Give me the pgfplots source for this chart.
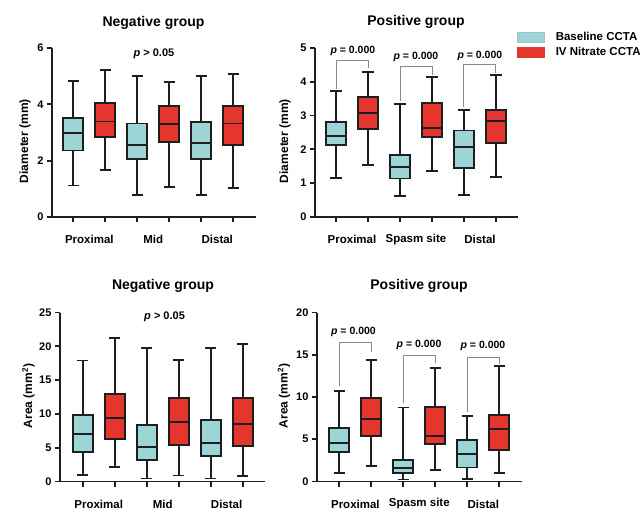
\documentclass[border=0pt]{standalone}
\usepackage{pgfplots}
\pgfplotsset{compat=1.18}
\usepgfplotslibrary{statistics}
\usepackage{fontspec}
\setmainfont{Liberation Sans}
\definecolor{cbase}{HTML}{9DD4D6}
\definecolor{cnit}{HTML}{E5362D}
\definecolor{edge}{HTML}{1E1E1E}
\definecolor{brk}{HTML}{8A8A8A}

\pgfplotsset{
  panel/.style={scale only axis, height=169pt,
    axis x line=bottom, axis y line=left,
    axis line style={-, line width=1.8pt, draw=edge},
    every tick/.style={line width=1.8pt, draw=edge},
    major tick length=5pt, tick align=outside,
    xtick={0,...,5}, xticklabels={},
    tick label style={font=\bfseries\fontsize{11}{11}\selectfont},
    /pgf/number format/assume math mode=true,
    clip=false,
    boxplot/draw direction=y,
    boxplot/box extend=0.625, boxplot/whisker extend=0.36},
  bb/.style={boxplot prepared={#1}, fill=cbase, draw=edge, line width=1.9pt, solid},
  rb/.style={boxplot prepared={#1}, fill=cnit, draw=edge, line width=1.9pt, solid},
  swatch/.style={legend image code/.code={\draw[##1] (0pt,-5pt) rectangle (27pt,5pt);}},
}
\tikzset{
  cat/.style={font=\bfseries\fontsize{11.5}{12}\selectfont, yshift=-22.5pt},
  pv/.style={font=\bfseries\fontsize{10.5}{11}\selectfont},
  bracket/.style={draw=brk, line width=0.9pt},
}

\begin{document}
\begin{tikzpicture}
\path[use as bounding box] (0pt,0pt) rectangle (642pt,509pt);

% ---------- Panel 1: Diameter, negative group ----------
\begin{axis}[panel, at={(52pt,292pt)}, anchor=south west, width=204pt,
  xmin=-0.666, xmax=5.71, ymin=0, ymax=6, ytick={0,2,4,6}]
\addplot[bb={draw position=0, lower whisker=1.12, lower quartile=2.36, median=2.99, upper quartile=3.53, upper whisker=4.82}] coordinates {};
\addplot[rb={draw position=1, lower whisker=1.68, lower quartile=2.83, median=3.39, upper quartile=4.06, upper whisker=5.21}] coordinates {};
\addplot[bb={draw position=2, lower whisker=0.78, lower quartile=2.05, median=2.56, upper quartile=3.32, upper whisker=5.02}] coordinates {};
\addplot[rb={draw position=3, lower whisker=1.08, lower quartile=2.65, median=3.30, upper quartile=3.95, upper whisker=4.80}] coordinates {};
\addplot[bb={draw position=4, lower whisker=0.78, lower quartile=2.06, median=2.62, upper quartile=3.38, upper whisker=5.02}] coordinates {};
\addplot[rb={draw position=5, lower whisker=1.04, lower quartile=2.55, median=3.32, upper quartile=3.95, upper whisker=5.07}] coordinates {};
\node[cat] at (axis cs:0.5,0) {Proximal};
\node[cat] at (axis cs:2.5,0) {Mid};
\node[cat] at (axis cs:4.5,0) {Distal};
\node[font=\bfseries\fontsize{11}{11}\selectfont] at (axis cs:2.52,5.81) {\textit{p} > 0.05};
\end{axis}

% ---------- Panel 2: Diameter, positive group ----------
\begin{axis}[panel, at={(315pt,292pt)}, anchor=south west, width=203pt,
  xmin=-0.656, xmax=5.69, ymin=0, ymax=5, ytick={0,1,2,3,4,5},
  legend style={at={(axis description cs:0.995,1.105)}, anchor=north west, draw=none, fill=none,
    inner sep=0pt, font=\bfseries\fontsize{11.5}{12}\selectfont, row sep=1pt,
    /tikz/every odd column/.style={column sep=9pt}},
  legend cell align=left]
\addlegendimage{swatch, fill=cbase, draw=cbase!85!gray, line width=0.6pt}
\addlegendentry{Baseline CCTA}
\addlegendimage{swatch, fill=cnit, draw=cnit, line width=0.6pt}
\addlegendentry{IV Nitrate CCTA}
\addplot[bb={draw position=0, lower whisker=1.16, lower quartile=2.13, median=2.40, upper quartile=2.80, upper whisker=3.72}] coordinates {};
\addplot[rb={draw position=1, lower whisker=1.55, lower quartile=2.60, median=3.07, upper quartile=3.55, upper whisker=4.30}] coordinates {};
\addplot[bb={draw position=2, lower whisker=0.63, lower quartile=1.14, median=1.48, upper quartile=1.84, upper whisker=3.35}] coordinates {};
\addplot[rb={draw position=3, lower whisker=1.35, lower quartile=2.38, median=2.63, upper quartile=3.37, upper whisker=4.13}] coordinates {};
\addplot[bb={draw position=4, lower whisker=0.66, lower quartile=1.45, median=2.06, upper quartile=2.56, upper whisker=3.16}] coordinates {};
\addplot[rb={draw position=5, lower whisker=1.18, lower quartile=2.18, median=2.83, upper quartile=3.16, upper whisker=4.19}] coordinates {};
\draw[bracket] (axis cs:0,3.80) -- (axis cs:0,4.62) -- (axis cs:1,4.62) -- (axis cs:1,4.40);
\draw[bracket] (axis cs:2,3.42) -- (axis cs:2,4.46) -- (axis cs:3,4.46) -- (axis cs:3,4.21);
\draw[bracket] (axis cs:4,3.25) -- (axis cs:4,4.50) -- (axis cs:5,4.50) -- (axis cs:5,4.26);
\node[pv] at (axis cs:0.53,4.90) {\textit{p} = 0.000};
\node[pv] at (axis cs:2.50,4.75) {\textit{p} = 0.000};
\node[pv] at (axis cs:4.50,4.78) {\textit{p} = 0.000};
\node[cat] at (axis cs:0.5,0) {Proximal};
\node[cat] at (axis cs:2.5,0) {Spasm site};
\node[cat] at (axis cs:4.5,0) {Distal};
\end{axis}

% ---------- Panel 3: Area, negative group ----------
\begin{axis}[panel, at={(60pt,27.5pt)}, anchor=south west, width=205pt,
  xmin=-0.71, xmax=5.70, ymin=0, ymax=25, ytick={0,5,10,15,20,25}]
\addplot[bb={draw position=0, lower whisker=0.94, lower quartile=4.38, median=6.98, upper quartile=9.80, upper whisker=17.9}] coordinates {};
\addplot[rb={draw position=1, lower whisker=2.18, lower quartile=6.25, median=9.35, upper quartile=13.0, upper whisker=21.2}] coordinates {};
\addplot[bb={draw position=2, lower whisker=0.45, lower quartile=3.17, median=5.15, upper quartile=8.32, upper whisker=19.8}] coordinates {};
\addplot[rb={draw position=3, lower whisker=0.89, lower quartile=5.42, median=8.78, upper quartile=12.33, upper whisker=18.0}] coordinates {};
\addplot[bb={draw position=4, lower whisker=0.45, lower quartile=3.78, median=5.72, upper quartile=9.11, upper whisker=19.7}] coordinates {};
\addplot[rb={draw position=5, lower whisker=0.86, lower quartile=5.30, median=8.55, upper quartile=12.3, upper whisker=20.35}] coordinates {};
\node[cat] at (axis cs:0.5,0) {Proximal};
\node[cat] at (axis cs:2.5,0) {Mid};
\node[cat] at (axis cs:4.5,0) {Distal};
\node[font=\bfseries\fontsize{11}{11}\selectfont] at (axis cs:2.56,24.4) {\textit{p} > 0.05};
\end{axis}

% ---------- Panel 4: Area, positive group ----------
\begin{axis}[panel, at={(317pt,27.5pt)}, anchor=south west, width=205pt,
  xmin=-0.70, xmax=5.71, ymin=0, ymax=20, ytick={0,5,10,15,20}]
\addplot[bb={draw position=0, lower whisker=1.03, lower quartile=3.49, median=4.60, upper quartile=6.35, upper whisker=10.7}] coordinates {};
\addplot[rb={draw position=1, lower whisker=1.85, lower quartile=5.39, median=7.42, upper quartile=9.90, upper whisker=14.42}] coordinates {};
\addplot[bb={draw position=2, lower whisker=0.24, lower quartile=0.99, median=1.64, upper quartile=2.55, upper whisker=8.76}] coordinates {};
\addplot[rb={draw position=3, lower whisker=1.39, lower quartile=4.42, median=5.38, upper quartile=8.84, upper whisker=13.45}] coordinates {};
\addplot[bb={draw position=4, lower whisker=0.26, lower quartile=1.66, median=3.27, upper quartile=4.87, upper whisker=7.76}] coordinates {};
\addplot[rb={draw position=5, lower whisker=1.03, lower quartile=3.68, median=6.23, upper quartile=7.84, upper whisker=13.70}] coordinates {};
\draw[bracket] (axis cs:0,11.25) -- (axis cs:0,16.44) -- (axis cs:1,16.44) -- (axis cs:1,15.37);
\draw[bracket] (axis cs:2,9.30) -- (axis cs:2,14.89) -- (axis cs:3,14.89) -- (axis cs:3,13.98);
\draw[bracket] (axis cs:4,8.25) -- (axis cs:4,14.69) -- (axis cs:5,14.69) -- (axis cs:5,13.86);
\node[pv] at (axis cs:0.44,17.66) {\textit{p} = 0.000};
\node[pv] at (axis cs:2.49,16.12) {\textit{p} = 0.000};
\node[pv] at (axis cs:4.49,16.08) {\textit{p} = 0.000};
\node[cat] at (axis cs:0.5,0) {Proximal};
\node[cat] at (axis cs:2.5,0) {Spasm site};
\node[cat] at (axis cs:4.5,0) {Distal};
\end{axis}

% ---------- Titles and axis labels ----------
\node[font=\bfseries\fontsize{14}{14}\selectfont] at (153.5pt,486pt) {Negative group};
\node[font=\bfseries\fontsize{14}{14}\selectfont] at (416pt,487pt) {Positive group};
\node[font=\bfseries\fontsize{14}{14}\selectfont] at (163pt,223pt) {Negative group};
\node[font=\bfseries\fontsize{14}{14}\selectfont] at (419pt,223pt) {Positive group};
\node[rotate=90, font=\bfseries\fontsize{12}{12}\selectfont] at (25pt,368pt) {Diameter (mm)};
\node[rotate=90, font=\bfseries\fontsize{12}{12}\selectfont] at (285pt,368pt) {Diameter (mm)};
\node[rotate=90, font=\bfseries\fontsize{12}{12}\selectfont] at (28.5pt,113pt) {Area (mm\textsuperscript{2})};
\node[rotate=90, font=\bfseries\fontsize{12}{12}\selectfont] at (284pt,113pt) {Area (mm\textsuperscript{2})};
\end{tikzpicture}
\end{document}
